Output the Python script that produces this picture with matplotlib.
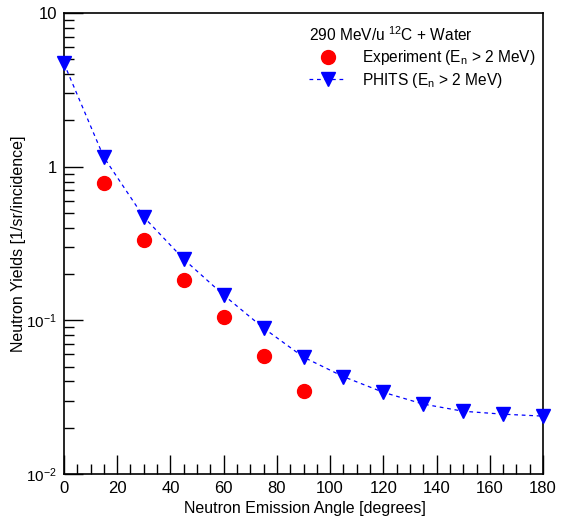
import numpy as np
import matplotlib.pyplot as plt
from matplotlib.ticker import MultipleLocator, LogLocator, NullFormatter

plt.rcParams['font.family'] = ['Liberation Sans', 'DejaVu Sans']
plt.rcParams['mathtext.default'] = 'regular'

# data
ang_exp = [15, 30, 45, 60, 75, 90]
yld_exp = [0.78, 0.335, 0.182, 0.105, 0.059, 0.0345]

ang_phits = [0, 15, 30, 45, 60, 75, 90, 105, 120, 135, 150, 165, 180]
yld_phits = [4.7, 1.15, 0.47, 0.25, 0.146, 0.089, 0.0576, 0.043, 0.034,
             0.0285, 0.0256, 0.0245, 0.0238]

ytick_vals = [0.01, 0.1, 1, 10]
ytick_labels = ['$10^{-2}$', '$10^{-1}$', '1', '10']

fig = plt.figure(figsize=(5.61, 5.2), dpi=100)
ax = fig.add_axes([0.114, 0.0885, 0.854, 0.8865])

ax.plot(ang_phits, yld_phits, color='#0000ff', ls=(0, (3, 3)), lw=0.9,
        marker='v', ms=10, mec='#0000ff', mfc='#0000ff',
        label='PHITS (E$_n$ > 2 MeV)', clip_on=False, zorder=3)
ax.plot(ang_exp, yld_exp, ls='none', marker='o', ms=10, color='#ff0000',
        label='Experiment (E$_n$ > 2 MeV)', zorder=4)

ax.set_yscale('log')
ax.set_xlim(0, 180)
ax.set_ylim(0.01, 10)

ax.xaxis.set_major_locator(MultipleLocator(20))
ax.xaxis.set_minor_locator(MultipleLocator(5))
ax.set_yticks(ytick_vals, ytick_labels)
ax.yaxis.set_minor_locator(LogLocator(base=10, subs=np.arange(2, 10)))
ax.yaxis.set_minor_formatter(NullFormatter())

ax.tick_params(which='major', length=14, width=1, labelsize=12, direction='in')
ax.tick_params(which='minor', length=7, width=1, direction='in')
ax.tick_params(axis='x', pad=5)
ax.tick_params(axis='y', pad=5)
# ROOT draws the 10^n labels a bit smaller
for t in ax.get_yticklabels():
    if '^' in t.get_text():
        t.set_fontsize(11)
for s in ax.spines.values():
    s.set_linewidth(1.2)

ax.set_xlabel('Neutron Emission Angle [degrees]', fontsize=11.5)
ax.set_ylabel('Neutron Yields [1/sr/incidence]', fontsize=11.5)
ax.xaxis.set_label_coords(0.503, -0.058)
ax.yaxis.set_label_coords(-0.08, 0.5)

h, l = ax.get_legend_handles_labels()
leg = ax.legend(h[::-1], l[::-1], loc='upper right', bbox_to_anchor=(1.01, 1.0),
                frameon=False, fontsize=11.2, title='290 MeV/u $^{12}$C + Water',
                title_fontsize=11.2, alignment='left', handlelength=2.4,
                handletextpad=1.0, labelspacing=0.25, borderaxespad=0.4)

fig.savefig('out.png', dpi=100)
